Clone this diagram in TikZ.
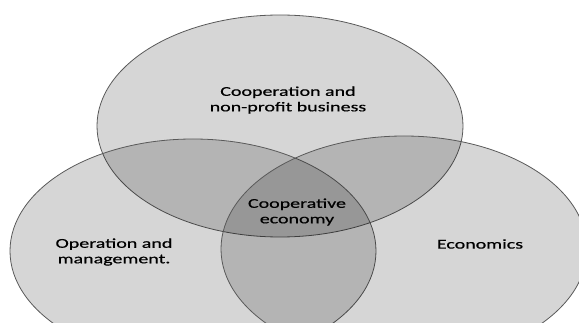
\documentclass[tikz,border=0pt]{standalone}
\usepackage{fontspec}
\newfontfamily\vennfont{Carlito}[FakeStretch=1.48,FakeBold=0.6]
\begin{document}
\begin{tikzpicture}[x=1pt,y=-1pt,
  set/.style={draw=black!65,line width=0.8pt,fill=black,fill opacity=0.16},
  setlabel/.style={align=center,text=black,font=\vennfont\fontsize{13.5}{15.5}\selectfont}]
\useasboundingbox (0,0) rectangle (579,323);
\coordinate (top)   at (280,126);
\coordinate (left)  at (193,251);
\coordinate (right) at (404,249);

\path[set] (top)   ellipse [x radius=183pt, y radius=111pt];
\path[set] (left)  ellipse [x radius=183pt, y radius=112pt];
\path[set] (right) ellipse [x radius=183pt, y radius=113pt];

\node[setlabel] (cooperation) at (288,100) {Cooperation and\\non-profit business};
\node[setlabel] (operation)   at (114,252) {Operation and\\management.};
\node[setlabel] (economics)   at (480,244) {Economics};
\node[setlabel] (cooperative) at (297,212) {Cooperative\\economy};
\end{tikzpicture}
\end{document}
